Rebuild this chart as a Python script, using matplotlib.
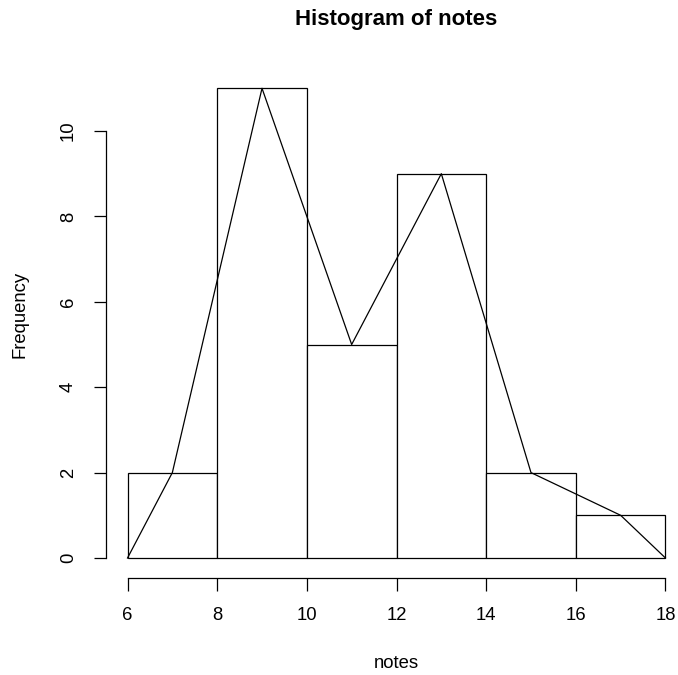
import matplotlib.pyplot as plt

plt.rcParams['font.family'] = ['Liberation Sans', 'DejaVu Sans']

# histogram data
bin_edges = [6, 8, 10, 12, 14, 16, 18]
counts = [2, 11, 5, 9, 2, 1]
# frequency polygon
poly_x = [6, 7, 9, 11, 13, 15, 17, 18]
poly_y = [0, 2, 11, 5, 9, 2, 1, 0]

W, H = 678, 675
fig = plt.figure(figsize=(W / 100, H / 100), dpi=100)
left, right, top, bottom = 106, 687, 69.5, 577.7
ax = fig.add_axes([left / W, 1 - bottom / H, (right - left) / W, (bottom - top) / H])

lw = 0.9
widths = [b - a for a, b in zip(bin_edges[:-1], bin_edges[1:])]
ax.bar(bin_edges[:-1], counts, width=widths, align='edge',
       facecolor='white', edgecolor='black', linewidth=lw)
ax.plot(poly_x, poly_y, color='black', linewidth=lw)

ax.set_xlim(5.52, 18.48)
ax.set_ylim(-0.461, 11.44)

for s in ['top', 'right']:
    ax.spines[s].set_visible(False)
ax.spines['left'].set_bounds(0, 10)
ax.spines['bottom'].set_bounds(6, 18)
ax.spines['left'].set_linewidth(lw)
ax.spines['bottom'].set_linewidth(lw)

ax.set_xticks([6, 8, 10, 12, 14, 16, 18])
ax.set_yticks([0, 2, 4, 6, 8, 10])
ax.tick_params(length=9, width=lw, labelsize=13.3, pad=12)
for lab in ax.get_yticklabels():
    lab.set_rotation(90)
    lab.set_va('center')

fig.text(396 / W, 1 - 19 / H, 'Histogram of notes', ha='center', va='center',
         fontsize=16, fontweight='bold')
fig.text(396 / W, 1 - 664 / H, 'notes', ha='center', va='center', fontsize=13.3)
fig.text(20 / W, 1 - 314 / H, 'Frequency', ha='center', va='center',
         fontsize=13.3, rotation=90)

fig.savefig('out.png', dpi=100)
